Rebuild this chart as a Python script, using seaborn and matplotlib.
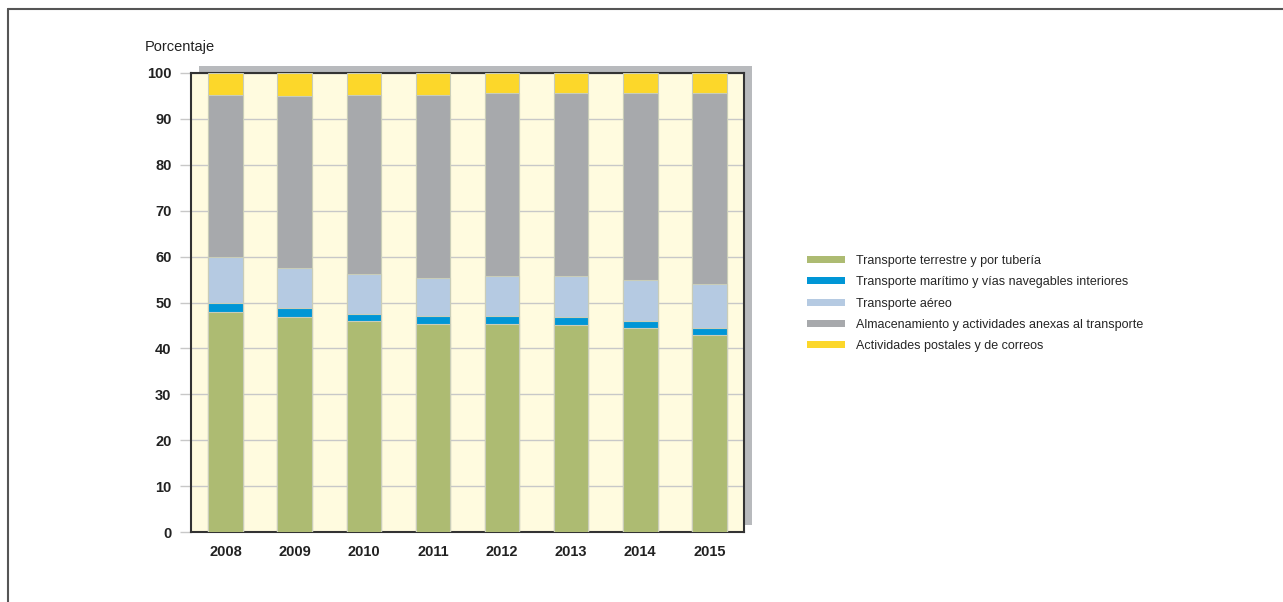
import matplotlib
matplotlib.use("Agg")
import matplotlib.pyplot as plt
import matplotlib.patches as mpatches
from matplotlib.lines import Line2D
import seaborn as sns
import numpy as np
import pandas as pd

# --- Data (percent share of each transport activity) ---
years = ["2008", "2009", "2010", "2011", "2012", "2013", "2014", "2015"]
terrestre = [48.0, 46.8, 45.9, 45.4, 45.4, 45.1, 44.4, 43.0]
maritimo  = [1.85, 1.9, 1.6, 1.7, 1.6, 1.7, 1.5, 1.5]
aereo     = [10.15, 8.9, 8.8, 8.3, 8.8, 8.9, 9.1, 9.6]
almacen   = [35.3, 37.4, 39.0, 39.9, 39.9, 40.0, 40.6, 41.6]
postales  = [4.7, 5.0, 4.7, 4.7, 4.3, 4.3, 4.4, 4.3]

series_names = [
    "Transporte terrestre y por tubería",
    "Transporte marítimo y vías navegables interiores",
    "Transporte aéreo",
    "Almacenamiento y actividades anexas al transporte",
    "Actividades postales y de correos",
]
series_vals = [terrestre, maritimo, aereo, almacen, postales]
COLORS = ["#adbb72", "#0096d6", "#b5cae2", "#a7a9ac", "#fcd72a"]
CREAM = "#fffbdf"

sns.set_theme(style="white")
plt.rcParams["font.family"] = ["Liberation Sans", "DejaVu Sans"]

fig = plt.figure(figsize=(12.83, 6.02), dpi=100)
W, H = 1283, 602

# outer frame (top and left only)
fig.add_artist(Line2D([8 / W, 8 / W], [0, 1 - 9 / H], transform=fig.transFigure,
                      color="#555555", lw=1.5))
fig.add_artist(Line2D([8 / W, 1], [1 - 9 / H, 1 - 9 / H], transform=fig.transFigure,
                      color="#555555", lw=1.5))

# drop shadow behind the plot area
fig.add_artist(mpatches.Rectangle((199 / W, 1 - 525 / H), (752 - 199) / W, (525 - 66) / H,
                                  transform=fig.transFigure, facecolor="#b8babd",
                                  edgecolor="none", zorder=0))

ax = fig.add_axes([191 / W, 1 - 532 / H, (744 - 191) / W, (532 - 73) / H])
ax.set_facecolor(CREAM)
ax.set_zorder(1)

# stacked bars drawn as cumulative overlays, top layer first
df = pd.DataFrame({"year": years})
cum = np.zeros(len(years))
cums = []
for vals in series_vals:
    cum = cum + np.array(vals)
    cums.append(cum.copy())
for i in range(len(series_vals) - 1, -1, -1):
    df["v"] = cums[i]
    sns.barplot(data=df, x="year", y="v", color=COLORS[i], saturation=1, width=0.5,
                edgecolor="#c9cdb8", linewidth=0.8, ax=ax, zorder=3)

ax.set_xlim(-0.5, 7.5)
ax.set_ylim(0, 100)
ax.set_yticks(range(0, 101, 10))
ax.yaxis.grid(True, color="#c8c8c8", lw=1, zorder=0)
ax.set_axisbelow(True)
ax.set_xlabel("")
ax.set_ylabel("")
for s in ax.spines.values():
    s.set_color("#333333")
    s.set_linewidth(1.5)
    s.set_visible(True)
ax.tick_params(axis="y", which="major", left=True, length=8, width=1, color="#c8c8c8",
               pad=6, labelsize=10.5)
ax.tick_params(axis="x", which="major", bottom=False, length=0, pad=9, labelsize=10.5)
for lab in ax.get_xticklabels() + ax.get_yticklabels():
    lab.set_fontweight("bold")
    lab.set_color("#222222")

fig.text(145 / W, 1 - 47 / H, "Porcentaje", ha="left", va="center", fontsize=10.5,
         color="#222222")

handles = [mpatches.Patch(facecolor=c, edgecolor="none") for c in COLORS]
fig.legend(handles, series_names, loc="upper left", bbox_to_anchor=(807 / W, 1 - 255 / H),
           frameon=False, fontsize=9, handlelength=3.0, handleheight=0.5,
           handletextpad=0.95, labelspacing=0.74, borderpad=0, borderaxespad=0)

fig.savefig("out.png", dpi=100, facecolor="white")
